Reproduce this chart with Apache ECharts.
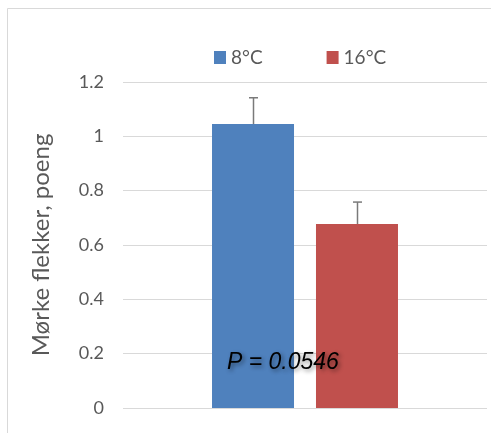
<!DOCTYPE html>
<html>
<head>
<meta charset="utf-8">
<script src="https://cdn.jsdelivr.net/npm/echarts@6/dist/echarts.min.js"></script>
<style>html,body{margin:0;padding:0;background:#fff}#c{width:491px;height:433px}</style>
</head>
<body>
<div id="c"></div>
<script>
var categories = [''];
var seriesNames = ['8°C', '16°C'];
var means = [1.045, 0.677];
var errors = [0.097, 0.081];
var colors = ['#4F81BD', '#C0504D'];
var yTicks = { min: 0, max: 1.2, interval: 0.2 };
var yAxisTitle = 'Mørke flekker, poeng';
var pText = 'P = 0.0546';

var FONT = 'Lato, "Open Sans", sans-serif';
var BAR_W = 82, BAR_GAP = '26.8%';

var chart = echarts.init(document.getElementById('c'), null, { renderer: 'canvas' });

var series = [];
seriesNames.forEach(function (n, i) {
  series.push({
    name: n, type: 'bar', data: [means[i]],
    barWidth: BAR_W, barGap: BAR_GAP,
    itemStyle: { color: colors[i] }, silent: true
  });
});
seriesNames.forEach(function (n, i) {
  series.push({
    type: 'custom', silent: true, z: 5,
    data: [[0, means[i], errors[i]]],
    renderItem: function (params, api) {
      var off = (i === 0 ? -1 : 1) * 52;
      if (api.barLayout) {
        var lay = api.barLayout({ barWidth: BAR_W, barGap: BAR_GAP, count: 2 });
        if (lay && lay[i]) off = lay[i].offsetCenter;
      }
      var base = api.coord([api.value(0), api.value(1)]);
      var top = api.coord([api.value(0), api.value(1) + api.value(2)]);
      var x = Math.round(base[0] + off) + 0.5;
      var st = { stroke: '#7a7a7a', lineWidth: 1.5 };
      return { type: 'group', children: [
        { type: 'line', shape: { x1: x, y1: base[1], x2: x, y2: top[1] }, style: st },
        { type: 'line', shape: { x1: x - 4.5, y1: top[1], x2: x + 4.5, y2: top[1] }, style: st }
      ]};
    }
  });
});

chart.setOption({
  animation: false,
  backgroundColor: '#fff',
  textStyle: { fontFamily: FONT },
  legend: {
    data: seriesNames, left: 209, top: 43,
    itemWidth: 12, itemHeight: 13, itemGap: 64,
    icon: 'rect',
    textStyle: { fontSize: 19, color: '#595959', fontFamily: FONT }
  },
  grid: { left: 123, right: 4, top: 82, bottom: 25 },
  xAxis: {
    type: 'category', data: categories,
    axisLine: { show: false }, axisTick: { show: false }, axisLabel: { show: false }
  },
  yAxis: {
    type: 'value', min: yTicks.min, max: yTicks.max, interval: yTicks.interval,
    name: yAxisTitle, nameLocation: 'middle', nameGap: 70,
    nameTextStyle: { fontSize: 24, color: '#595959', fontFamily: FONT },
    axisLine: { show: false }, axisTick: { show: false },
    axisLabel: { fontSize: 18, color: '#595959', margin: 19, fontFamily: FONT },
    splitLine: { lineStyle: { color: '#d9d9d9', width: 1.2 } }
  },
  graphic: [
    { type: 'rect', shape: { x: 7.5, y: 8.5, width: 700, height: 700 }, style: { fill: 'none', stroke: '#d9d9d9', lineWidth: 1 }, silent: true, z: -1 },
    { type: 'text', x: 227, y: 363, z: 100,
      style: { text: pText, fontStyle: 'italic', fontSize: 23, fontFamily: '"Liberation Sans", Arial, sans-serif',
        fill: '#000', textVerticalAlign: 'middle',
        textShadowColor: 'rgba(0,0,0,0.45)', textShadowBlur: 4, textShadowOffsetX: 2, textShadowOffsetY: 2 } }
  ],
  series: series
});
</script>
</body>
</html>
